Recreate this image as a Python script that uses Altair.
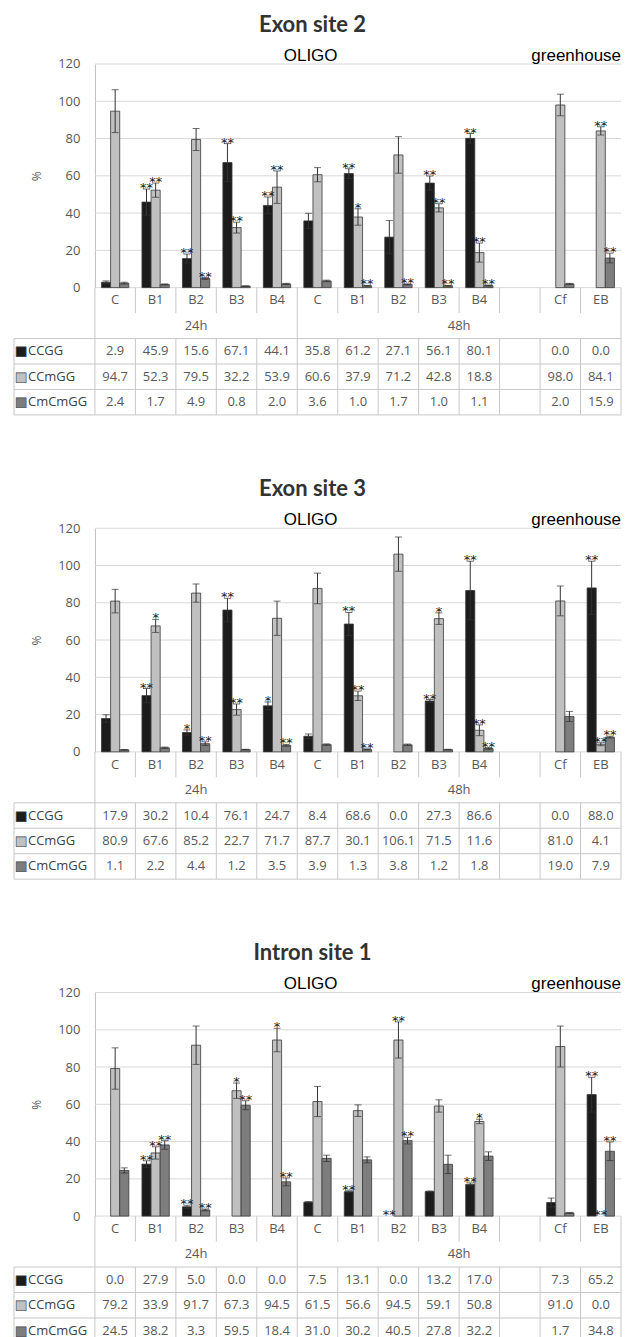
import altair as alt
import pandas as pd

# ---------------- data ----------------
CATEGORIES = ["C", "B1", "B2", "B3", "B4", "C", "B1", "B2", "B3", "B4", "", "Cf", "EB"]
GROUPS = ["24h"] * 5 + ["48h"] * 5 + ["gap", "gh", "gh"]
SERIES = ["CCGG", "CCmGG", "CmCmGG"]
COLORS = ["#1c1c1c", "#c0c0c0", "#7d7d7d"]
Y_TICKS = [0, 20, 40, 60, 80, 100, 120]
TIME_LABELS = ["24h", "48h"]
PANEL_TITLES = ["Exon site 2", "Exon site 3", "Intron site 1"]
SUBTITLE_LEFT = "OLIGO"
SUBTITLE_RIGHT = "greenhouse"

# Exon site 2
EX2_CCGG = [2.9, 45.9, 15.6, 67.1, 44.1, 35.8, 61.2, 27.1, 56.1, 80.1, None, 0.0, 0.0]
EX2_CCMGG = [94.7, 52.3, 79.5, 32.2, 53.9, 60.6, 37.9, 71.2, 42.8, 18.8, None, 98.0, 84.1]
EX2_CMCMGG = [2.4, 1.7, 4.9, 0.8, 2.0, 3.6, 1.0, 1.7, 1.0, 1.1, None, 2.0, 15.9]
EX2_CCGG_ERR = [0.7, 7.0, 2.4, 10.2, 4.5, 4.1, 2.6, 8.9, 3.8, 2.6, None, 0.0, 0.0]
EX2_CCMGG_ERR = [11.5, 3.8, 5.9, 2.9, 8.7, 3.8, 4.4, 9.8, 2.2, 5.1, None, 5.8, 2.2]
EX2_CMCMGG_ERR = [0.5, 0.3, 0.5, 0.2, 0.3, 0.4, 0.2, 0.3, 0.2, 0.3, None, 0.3, 2.6]
EX2_CCGG_SIG = ["", "**", "**", "**", "**", "", "**", "", "**", "**", "", "", ""]
EX2_CCMGG_SIG = ["", "**", "", "**", "**", "", "*", "", "**", "**", "", "", "**"]
EX2_CMCMGG_SIG = ["", "", "**", "", "", "", "**", "**", "**", "**", "", "", "**"]

# Exon site 3
EX3_CCGG = [17.9, 30.2, 10.4, 76.1, 24.7, 8.4, 68.6, 0.0, 27.3, 86.6, None, 0.0, 88.0]
EX3_CCMGG = [80.9, 67.6, 85.2, 22.7, 71.7, 87.7, 30.1, 106.1, 71.5, 11.6, None, 81.0, 4.1]
EX3_CMCMGG = [1.1, 2.2, 4.4, 1.2, 3.5, 3.9, 1.3, 3.8, 1.2, 1.8, None, 19.0, 7.9]
EX3_CCGG_ERR = [2.0, 3.8, 1.4, 6.3, 2.1, 1.2, 6.2, 0.0, 0.8, 15.7, None, 0.0, 14.3]
EX3_CCMGG_ERR = [6.3, 3.5, 4.9, 3.0, 9.2, 8.2, 2.5, 9.2, 3.1, 2.9, None, 8.0, 0.8]
EX3_CMCMGG_ERR = [0.2, 0.4, 1.0, 0.2, 0.5, 0.4, 0.3, 0.4, 0.2, 0.5, None, 2.7, 0.5]
EX3_CCGG_SIG = ["", "**", "*", "**", "*", "", "**", "", "**", "**", "", "", "**"]
EX3_CCMGG_SIG = ["", "*", "", "**", "", "", "**", "", "*", "**", "", "", "**"]
EX3_CMCMGG_SIG = ["", "", "**", "", "**", "", "**", "", "", "**", "", "", "**"]

# Intron site 1
IN1_CCGG = [0.0, 27.9, 5.0, 0.0, 0.0, 7.5, 13.1, 0.0, 13.2, 17.0, None, 7.3, 65.2]
IN1_CCMGG = [79.2, 33.9, 91.7, 67.3, 94.5, 61.5, 56.6, 94.5, 59.1, 50.8, None, 91.0, 0.0]
IN1_CMCMGG = [24.5, 38.2, 3.3, 59.5, 18.4, 31.0, 30.2, 40.5, 27.8, 32.2, None, 1.7, 34.8]
IN1_CCGG_ERR = [0.0, 1.8, 0.8, 0.0, 0.0, 0.3, 0.5, 0.0, 0.3, 0.8, None, 2.4, 9.3]
IN1_CCMGG_ERR = [11.1, 3.3, 10.3, 4.1, 6.3, 8.1, 3.1, 9.7, 3.3, 1.2, None, 11.0, 0.0]
IN1_CMCMGG_ERR = [1.4, 2.3, 0.5, 2.4, 2.1, 1.7, 1.6, 1.8, 4.9, 2.3, None, 0.3, 5.0]
IN1_CCGG_SIG = ["", "**", "**", "", "", "", "**", "**", "", "**", "", "", "**"]
IN1_CCMGG_SIG = ["", "**", "", "*", "*", "", "", "**", "", "*", "", "", "**"]
IN1_CMCMGG_SIG = ["", "**", "**", "**", "**", "", "", "**", "", "", "", "", "**"]

# ---------------- style ----------------
FONT = "Open Sans"
TXT = "#595959"
LINE = "#c8c8c8"
GRID = "#d9d9d9"
W = 608           # 15 slots (2 label slots + 13 data columns)
SLOT = W / 15
H_PLOT = 224
H_TABLE = 127.5

KEYS = [("gap" if g == "gap" else f"{g} {c}") for g, c in zip(GROUPS, CATEGORIES)]
SLOTS = ["_L1", "_L2"] + KEYS
ROWS = ["cat", "time"] + SERIES

xscale = alt.Scale(domain=SLOTS, paddingInner=0, paddingOuter=0)
yscale = alt.Scale(domain=[0, 120], nice=False, zero=True)
offscale = alt.Scale(domain=SERIES, paddingInner=0, paddingOuter=0.72)
cscale = alt.Scale(domain=SERIES, range=COLORS)
tscale = alt.Scale(domain=ROWS, paddingInner=0, paddingOuter=0)

YAX = alt.Axis(
    values=Y_TICKS, offset=-2 * SLOT, grid=False, ticks=False, labelPadding=15,
    domainColor="#bfbfbf", labelFont=FONT, labelFontSize=13, labelColor=TXT,
    title="%", titleFont=FONT, titleFontSize=12, titleFontWeight="normal",
    titleColor=TXT, titlePadding=14)


def Yq(field):
    return alt.Y(field, scale=yscale, axis=YAX)


def bar_chart(title, vals, errs, sigs):
    rows = []
    for s, ser in enumerate(SERIES):
        for i, k in enumerate(KEYS):
            v = vals[s][i]
            if v is None:
                continue
            e = errs[s][i]
            rows.append(dict(key=k, series=ser, value=v, err=e, lo=v - e, hi=v + e, sig=sigs[s][i]))
    df = pd.DataFrame(rows)
    X = alt.X("key:N", scale=xscale, axis=None)
    XO = alt.XOffset("series:N", scale=offscale)

    grid = alt.Chart(pd.DataFrame({"y": Y_TICKS, "a": KEYS[0], "b": KEYS[-1]})).mark_rule(
        color=GRID, strokeWidth=1
    ).encode(
        x=alt.X("a:N", scale=xscale, axis=None, bandPosition=0),
        x2=alt.X2("b:N", bandPosition=1),
        y=Yq("y:Q"),
    )
    bars = alt.Chart(df[df.value > 0]).mark_bar(stroke="#3a3a3a", strokeWidth=0.8).encode(
        x=X, xOffset=XO, y=Yq("value:Q"),
        color=alt.Color("series:N", scale=cscale, legend=None),
    )
    ed = df[df.err > 0]
    errline = alt.Chart(ed).mark_rule(color="#333333", strokeWidth=1).encode(
        x=X, xOffset=XO, y=Yq("lo:Q"), y2="hi:Q")
    cap_hi = alt.Chart(ed).mark_tick(color="#333333", size=7, thickness=1).encode(
        x=X, xOffset=XO, y=Yq("hi:Q"))
    cap_lo = alt.Chart(ed).mark_tick(color="#333333", size=7, thickness=1).encode(
        x=X, xOffset=XO, y=Yq("lo:Q"))
    sd = df[df.sig != ""]
    stars = alt.Chart(sd).mark_text(
        font="DejaVu Sans", fontSize=13, baseline="alphabetic", dy=3, color="#1a1a1a"
    ).encode(x=X, xOffset=XO, y=Yq("hi:Q"), text="sig:N")

    top = pd.DataFrame({"k": [KEYS[5]], "e": [KEYS[-1]], "y": [120], "title": [title],
                        "left": [SUBTITLE_LEFT], "right": [SUBTITLE_RIGHT]})
    ttl = alt.Chart(top).mark_text(
        font="Lato", fontSize=22, fontWeight="bold", baseline="middle", dy=-39.5, color="#333333"
    ).encode(x=alt.X("k:N", scale=xscale, axis=None, bandPosition=0.377), y=Yq("y:Q"), text="title:N")
    oligo = alt.Chart(top).mark_text(
        font="Liberation Sans", fontSize=17, baseline="middle", dy=-8, color="#000000"
    ).encode(x=alt.X("k:N", scale=xscale, axis=None, bandPosition=0.33), y=Yq("y:Q"), text="left:N")
    gh = alt.Chart(top).mark_text(
        font="Liberation Sans", fontSize=17, align="right", baseline="middle", dy=-8, color="#000000"
    ).encode(x=alt.X("e:N", scale=xscale, axis=None, bandPosition=1), y=Yq("y:Q"), text="right:N")
    return alt.layer(grid, bars, errline, cap_hi, cap_lo, stars, ttl, oligo, gh).properties(
        width=W, height=H_PLOT)


def table_chart(vals):
    texts = []
    for i, k in enumerate(KEYS):
        texts.append(dict(key=k, row="cat", t=CATEGORIES[i]))
        for s, ser in enumerate(SERIES):
            v = vals[s][i]
            if v is not None:
                texts.append(dict(key=k, row=ser, t=f"{v:.1f}"))
    tdf = pd.DataFrame(texts)
    Y = alt.Y("row:N", scale=tscale, axis=None)
    txt = alt.Chart(tdf).mark_text(font=FONT, fontSize=13, color=TXT).encode(
        x=alt.X("key:N", scale=xscale, axis=None), y=Y, text="t:N")
    t24 = alt.Chart(pd.DataFrame({"key": ["24h B2"], "row": ["time"], "t": [TIME_LABELS[0]]})).mark_text(
        font=FONT, fontSize=13, color=TXT).encode(
        x=alt.X("key:N", scale=xscale, axis=None), y=Y, text="t:N")
    t48 = alt.Chart(pd.DataFrame({"key": ["48h B4"], "row": ["time"], "t": [TIME_LABELS[1]]})).mark_text(
        font=FONT, fontSize=13, color=TXT).encode(
        x=alt.X("key:N", scale=xscale, axis=None, bandPosition=0), y=Y, text="t:N")

    lab = pd.DataFrame({"key": "_L1", "row": SERIES, "series": SERIES, "sq": "■"})
    squares = alt.Chart(lab).mark_text(
        font="DejaVu Sans", fontSize=13, align="left", baseline="middle", dx=1,
        stroke="#404040", strokeWidth=0.6).encode(
        x=alt.X("key:N", scale=xscale, axis=None, bandPosition=0), y=Y, text="sq:N",
        color=alt.Color("series:N", scale=cscale, legend=None))
    labels = alt.Chart(lab).mark_text(font=FONT, fontSize=13, align="left", dx=14, color="#404040").encode(
        x=alt.X("key:N", scale=xscale, axis=None, bandPosition=0), y=Y, text="series:N")

    vrows = [("_L1", "CCGG", "CmCmGG")] + [(k, "CCGG", "CmCmGG") for k in KEYS] \
        + [(k, "cat", "cat") for k in KEYS] + [(KEYS[0], "time", "time"), (KEYS[5], "time", "time")]
    vdf = pd.DataFrame(vrows, columns=["key", "r1", "r2"])
    vlines = alt.Chart(vdf).mark_rule(color=LINE, strokeWidth=1).encode(
        x=alt.X("key:N", scale=xscale, axis=None, bandPosition=0),
        y=alt.Y("r1:N", scale=tscale, axis=None, bandPosition=0),
        y2=alt.Y2("r2:N", bandPosition=1))
    vend = alt.Chart(pd.DataFrame([(KEYS[-1], "cat", "CmCmGG")], columns=["key", "r1", "r2"])).mark_rule(
        color=LINE, strokeWidth=1).encode(
        x=alt.X("key:N", scale=xscale, axis=None, bandPosition=1),
        y=alt.Y("r1:N", scale=tscale, axis=None, bandPosition=0),
        y2=alt.Y2("r2:N", bandPosition=1))
    hdf = pd.DataFrame({"row": SERIES, "a": "_L1", "b": KEYS[-1]})
    htop = alt.Chart(hdf).mark_rule(color=LINE, strokeWidth=1).encode(
        x=alt.X("a:N", scale=xscale, axis=None, bandPosition=0), x2=alt.X2("b:N", bandPosition=1),
        y=alt.Y("row:N", scale=tscale, axis=None, bandPosition=0))
    hbot = alt.Chart(hdf.tail(1)).mark_rule(color=LINE, strokeWidth=1).encode(
        x=alt.X("a:N", scale=xscale, axis=None, bandPosition=0), x2=alt.X2("b:N", bandPosition=1),
        y=alt.Y("row:N", scale=tscale, axis=None, bandPosition=1))
    return alt.layer(vlines, vend, htop, hbot, txt, t24, t48, squares, labels).properties(
        width=W, height=H_TABLE)


PANELS = [
    (PANEL_TITLES[0], [EX2_CCGG, EX2_CCMGG, EX2_CMCMGG], [EX2_CCGG_ERR, EX2_CCMGG_ERR, EX2_CMCMGG_ERR],
     [EX2_CCGG_SIG, EX2_CCMGG_SIG, EX2_CMCMGG_SIG]),
    (PANEL_TITLES[1], [EX3_CCGG, EX3_CCMGG, EX3_CMCMGG], [EX3_CCGG_ERR, EX3_CCMGG_ERR, EX3_CMCMGG_ERR],
     [EX3_CCGG_SIG, EX3_CCMGG_SIG, EX3_CMCMGG_SIG]),
    (PANEL_TITLES[2], [IN1_CCGG, IN1_CCMGG, IN1_CMCMGG], [IN1_CCGG_ERR, IN1_CCMGG_ERR, IN1_CMCMGG_ERR],
     [IN1_CCGG_SIG, IN1_CCMGG_SIG, IN1_CMCMGG_SIG]),
]

panels = [alt.vconcat(bar_chart(t, v, e, s), table_chart(v), spacing=0, bounds="flush")
          for t, v, e, s in PANELS]

chart = alt.vconcat(*panels, spacing=62).properties(
    padding={"left": 5, "top": 4, "right": 0, "bottom": 0}
).configure(background="white").configure_view(strokeWidth=0, stroke="transparent")

chart.save("out.html", embed_options={"renderer": "svg", "actions": False})
